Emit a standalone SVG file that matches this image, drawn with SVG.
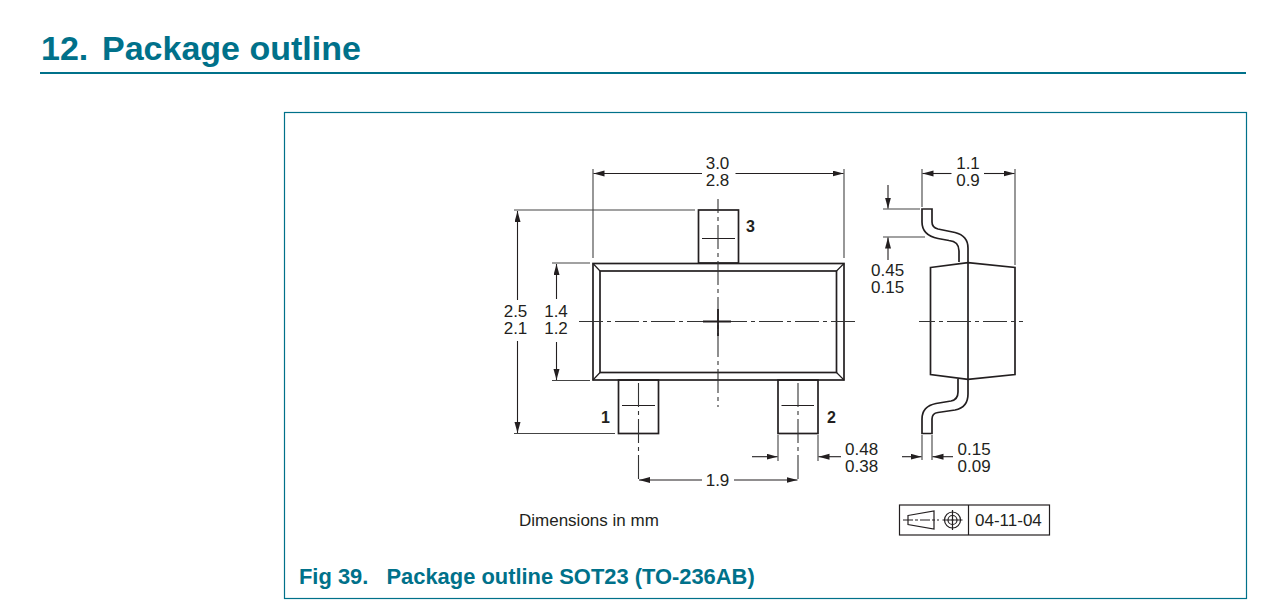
<svg xmlns="http://www.w3.org/2000/svg" width="1288" height="610" viewBox="0 0 1288 610">
<style>
text{font-family:"Liberation Sans",Arial,sans-serif}
.h{fill:#00718a;font-weight:700}
.d{fill:#231f20;font-size:17px}
.b{fill:#231f20;font-size:16px;font-weight:700}
.o{fill:none;stroke:#231f20;stroke-width:1.7}
.t{fill:none;stroke:#231f20;stroke-width:1.2}
.e{fill:none;stroke:#444;stroke-width:1.1}
.c{fill:none;stroke:#333;stroke-width:1.1;stroke-dasharray:24 4 4 4}
.a{fill:none;stroke:#231f20;stroke-width:1.1;marker-end:url(#ah)}
</style>
<defs>
<marker id="ah" markerUnits="userSpaceOnUse" markerWidth="12" markerHeight="7" refX="11" refY="3" orient="auto"><path d="M0 0L11 3L0 6Z" fill="#231f20"/></marker>
</defs>
<rect width="1288" height="610" fill="#fff"/>
<g id="heading">
<text class="h" x="41" y="60" font-size="34">12.</text>
<text class="h" x="102" y="60" font-size="34">Package outline</text>
<rect x="40" y="72" width="1206" height="2" fill="#00718a"/>
</g>
<rect id="frame" x="284.5" y="112.5" width="962" height="486" fill="none" stroke="#00718a" stroke-width="1.2"/>
<g id="top-view">
<rect class="o" x="698.5" y="210" width="40" height="53"/>
<rect class="o" x="618.5" y="380" width="40" height="53.5"/>
<rect class="o" x="778" y="380" width="40" height="53.5"/>
<rect class="o" x="593" y="263.5" width="251" height="116.5"/>
<rect class="o" x="600" y="271" width="236.5" height="101.5"/>
<path class="t" d="M593 263.5L600 271M844 263.5L836.500 271M593 380L600 372.500M844 380L836.500 372.500"/>
<path class="t" d="M702 238.500H735M622 405.500H655M781.500 405.500H814"/>
<text class="b" x="746" y="232">3</text>
<text class="b" x="601" y="423">1</text>
<text class="b" x="827" y="423">2</text>
</g>
<g id="side-view">
<path class="o" d="M930.500 267.500L968 262.700L1015 267.500V374.500L968 379.300L930.500 374.500Z"/>
<path class="o" d="M968 263V379"/>
<path class="o" d="M959 262V251C959 244 955 241 949 240.500L938 238.500C928 236.500 922 231 922 222V209H932V222C932 226 934 228 938 229L955 232.500C963 234.500 968 240 968 248V263"/>
<path class="o" d="M958 379V392C958 397 956 400 951 401L936 403.500C926 405.500 922 411 922 419V433.500H932V419C932 415 934 413 938 412.500L955 410C963 408.500 968 403 968 394V379"/>
</g>
<g id="connectors">
<path class="c" d="M579 321.500H857"/>
<path class="c" d="M718 199V407" stroke-dashoffset="10"/>
<path class="c" d="M638.500 383V483"/>
<path class="c" d="M798 383V483"/>
<path class="c" d="M919 321.500H1023" stroke-dashoffset="8"/>
<path d="M703 321.500H731M718 309V336" fill="none" stroke="#231f20" stroke-width="1.800"/>
<path class="e" d="M593 169V258M844 169V258M514 210H695M552 263H590M552 380.500H590M514 433.500H615"/>
<path class="e" d="M778 435V461M818 435V461M922 169V207M1015 169V265M883 209H920M883 237H925M922 435V460M932 435V460"/>
<path class="a" d="M702 173.500H593.500"/>
<path class="a" d="M735.500 173.500H843.500"/>
<path class="a" d="M517.500 300V211"/>
<path class="a" d="M517.500 341V433"/>
<path class="a" d="M556.500 299V264"/>
<path class="a" d="M556.500 342V380"/>
<path class="a" d="M702 480H639"/>
<path class="a" d="M734 480H797.500"/>
<path class="a" d="M752 456.700H777.500"/>
<path class="a" d="M841 456.700H818.500"/>
<path class="a" d="M951.500 173.500H922.500"/>
<path class="a" d="M984 173.500H1014.500"/>
<path class="a" d="M888 185V208.500"/>
<path class="a" d="M888 260V237.500"/>
<path class="a" d="M902 456.700H921.500"/>
<path class="a" d="M953 456.700H932.500"/>
</g>
<g id="labels">
<g class="d" text-anchor="middle">
<text class="d" x="717.500" y="169">3.0</text>
<text class="d" x="717.500" y="186">2.8</text>
<text class="d" x="515.500" y="317">2.5</text>
<text class="d" x="515.500" y="333.500">2.1</text>
<text class="d" x="556" y="317">1.4</text>
<text class="d" x="556" y="333.500">1.2</text>
<text class="d" x="717.500" y="485.500">1.9</text>
<text class="d" x="968" y="169">1.1</text>
<text class="d" x="968" y="186">0.9</text>
</g>
<text class="d" x="845" y="455">0.48</text>
<text class="d" x="845" y="472">0.38</text>
<text class="d" x="871" y="276">0.45</text>
<text class="d" x="871" y="292.500">0.15</text>
<text class="d" x="957.500" y="454.500">0.15</text>
<text class="d" x="957.500" y="471.500">0.09</text>
<text class="d" x="519" y="525.500" font-size="17.200">Dimensions in mm</text>
</g>
<g id="stamp">
<rect class="t" x="899.500" y="505" width="150" height="30"/>
<path class="t" d="M968.500 505V535"/>
<path class="t" d="M908 515.500L934 511V529L908 524.500Z"/>
<path class="t" d="M903 520H939" stroke-dasharray="10 2 3 2"/>
<circle class="t" cx="952.500" cy="520" r="8"/>
<circle class="t" cx="952.500" cy="520" r="4.500"/>
<circle cx="952.500" cy="520" r="1" fill="#231f20"/>
<path class="t" d="M942.500 520H962.500M952.500 510V530"/>
<text class="d" x="975" y="525.500">04-11-04</text>
</g>
<text id="caption-num" class="h" x="299" y="583.500" font-size="21.900">Fig 39.</text>
<text id="caption" class="h" x="386.500" y="583.500" font-size="21.900">Package outline SOT23 (TO-236AB)</text>
</svg>
